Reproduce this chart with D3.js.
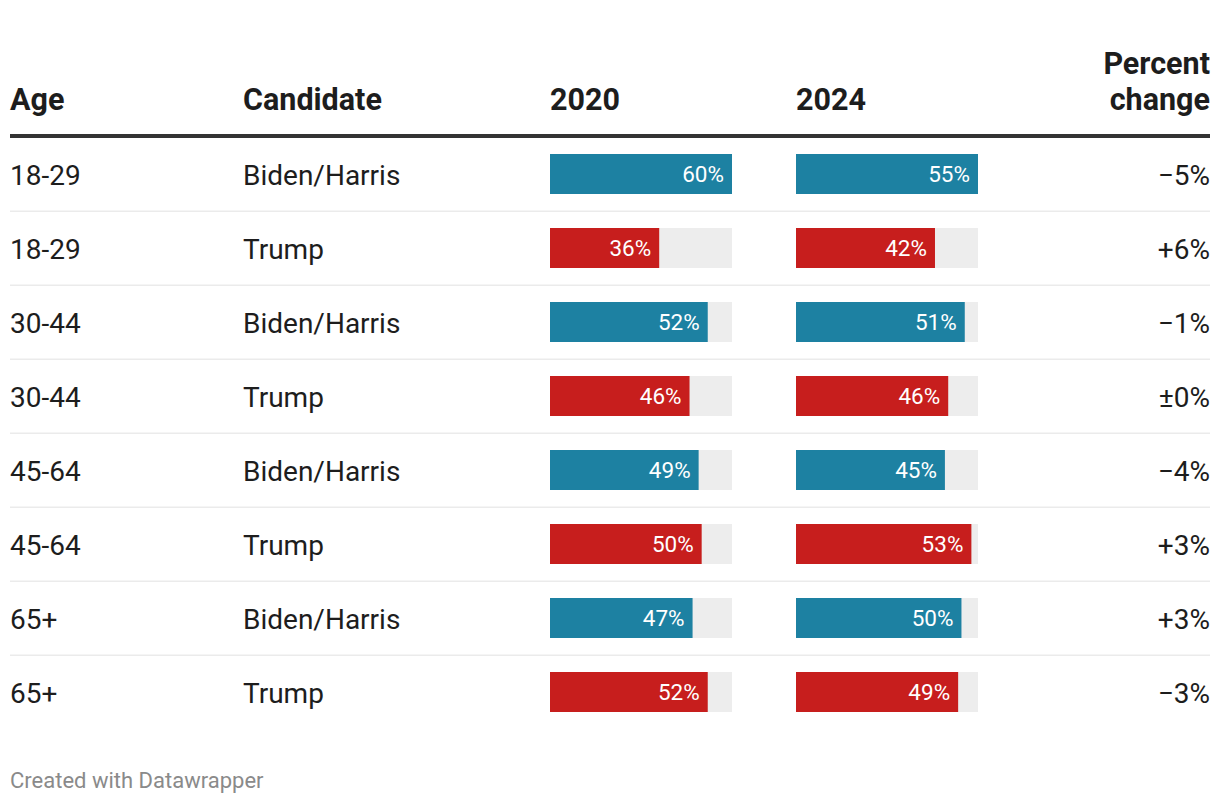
<!DOCTYPE html>
<html>
<head>
<meta charset="utf-8">
<script src="https://cdn.jsdelivr.net/npm/d3@7"></script>
<style>
  html, body { margin: 0; padding: 0; background: #fff; }
  svg { display: block; font-family: Roboto, "Noto Sans", sans-serif; }
</style>
</head>
<body>
<svg id="chart" width="1220" height="804"></svg>
<script>
// ---- data ----
const ages = ["18-29", "18-29", "30-44", "30-44", "45-64", "45-64", "65+", "65+"];
const candidates = ["Biden/Harris", "Trump", "Biden/Harris", "Trump", "Biden/Harris", "Trump", "Biden/Harris", "Trump"];
const values2020 = [60, 36, 52, 46, 49, 50, 47, 52];
const values2024 = [55, 42, 51, 46, 45, 53, 50, 49];
const changeLabels = ["\u22125%", "+6%", "\u22121%", "\u00b10%", "\u22124%", "+3%", "+3%", "\u22123%"];
const headers = ["Age", "Candidate", "2020", "2024"];
const changeHeader = ["Percent", "change"];
const footer = "Created with Datawrapper";

const colors = { "Biden/Harris": "#1d81a2", "Trump": "#c71e1d" };

// ---- layout ----
const svg = d3.select("#chart");
const left = 10, right = 1210;
const colAge = 10, colCand = 243, col2020 = 550, col2024 = 796;
const barW = 182, barH = 40;
const textColor = "#1d1d1d";

const rows = d3.range(ages.length);
const y = d3.scaleBand().domain(rows).range([138, 138 + 74 * rows.length]).paddingInner(0).paddingOuter(0);

const x2020 = d3.scaleLinear().domain([0, d3.max(values2020)]).range([0, barW]);
const x2024 = d3.scaleLinear().domain([0, d3.max(values2024)]).range([0, barW]);

// header
const hdr = svg.append("g").attr("font-weight", 700).attr("font-size", 30.5).attr("fill", textColor);
[colAge, colCand, col2020, col2024].forEach((cx, i) => {
  hdr.append("text").attr("x", cx).attr("y", 110).text(headers[i]);
});
hdr.append("text").attr("x", right).attr("y", 74).attr("text-anchor", "end").text(changeHeader[0]);
hdr.append("text").attr("x", right).attr("y", 110).attr("text-anchor", "end").text(changeHeader[1]);

svg.append("rect").attr("x", left).attr("y", 134).attr("width", right - left).attr("height", 4).attr("fill", "#333");

// separators
svg.append("g").selectAll("rect")
  .data(rows.slice(0, -1))
  .join("rect")
  .attr("x", left).attr("width", right - left)
  .attr("y", d => y(d) + y.bandwidth() - 1.5)
  .attr("height", 1.5)
  .attr("fill", "#ebebeb");

// row text
const rowG = svg.append("g").attr("font-size", 28).attr("fill", textColor);
rowG.selectAll("text.age").data(rows).join("text").attr("class", "age")
  .attr("x", colAge).attr("y", d => y(d) + 46.5).text(d => ages[d]);
rowG.selectAll("text.cand").data(rows).join("text").attr("class", "cand")
  .attr("x", colCand).attr("y", d => y(d) + 46.5).text(d => candidates[d]);
rowG.selectAll("text.chg").data(rows).join("text").attr("class", "chg")
  .attr("x", right).attr("text-anchor", "end").attr("y", d => y(d) + 46.5).text(d => changeLabels[d]);

// bars
function drawBars(cx, vals, xs) {
  const g = svg.append("g").attr("transform", `translate(${cx},0)`);
  g.selectAll("rect.bg").data(rows).join("rect").attr("class", "bg")
    .attr("x", 0).attr("y", d => y(d) + 16).attr("width", barW).attr("height", barH)
    .attr("fill", "#ededed");
  g.selectAll("rect.bar").data(rows).join("rect").attr("class", "bar")
    .attr("x", 0).attr("y", d => y(d) + 16).attr("width", d => xs(vals[d])).attr("height", barH)
    .attr("fill", d => colors[candidates[d]]);
  g.selectAll("text.lbl").data(rows).join("text").attr("class", "lbl")
    .attr("x", d => xs(vals[d]) - 8).attr("y", d => y(d) + 44)
    .attr("text-anchor", "end").attr("font-size", 22.5).attr("fill", "#fff")
    .text(d => vals[d] + "%");
}
drawBars(col2020, values2020, x2020);
drawBars(col2024, values2024, x2024);

// footer
svg.append("text").attr("x", left).attr("y", 788).attr("font-size", 22).attr("fill", "#8a8a8a").text(footer);
</script>
</body>
</html>
